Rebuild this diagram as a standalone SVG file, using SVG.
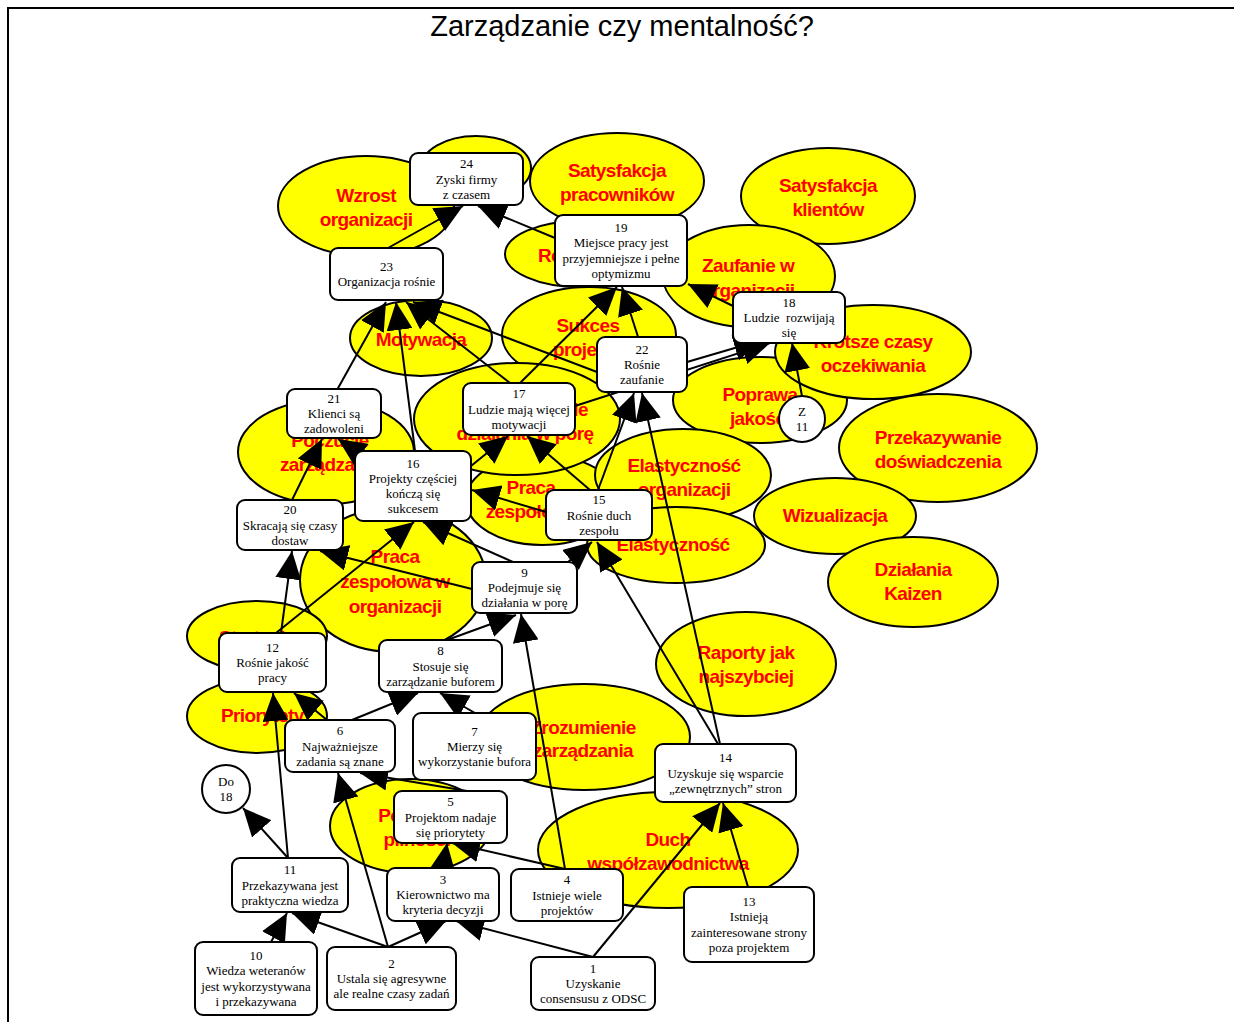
<svg xmlns="http://www.w3.org/2000/svg" width="1234" height="1022" viewBox="0 0 1234 1022">
<defs>
<style>
.e{fill:#ffff00;stroke:#000;stroke-width:2}
.et{font-family:"Liberation Sans",Arial,sans-serif;font-weight:bold;font-size:19px;fill:#ff0000;text-anchor:middle;letter-spacing:-0.6px}
.b{fill:#fff;stroke:#000;stroke-width:2}
.bt{font-family:"Liberation Serif","Times New Roman",serif;font-size:13px;fill:#000;text-anchor:middle}
.c line{stroke:#000;stroke-width:2;marker-end:url(#a)}
.title{font-family:"Liberation Sans",Arial,sans-serif;font-size:29px;fill:#000;text-anchor:middle}
</style>
<marker id="a" markerUnits="userSpaceOnUse" markerWidth="30" markerHeight="26" refX="28" refY="13" orient="auto"><path d="M0,0 L28,13 L0,26 z" fill="#000"/></marker>
</defs>
<rect width="1234" height="1022" fill="#fff"/>
<path d="M8,1022 V8 H1234" fill="none" stroke="#000" stroke-width="2"/>
<text class="title" x="622" y="36">Zarządzanie czy mentalność?</text>

<g id="ellipses">
<g id="e-top"><ellipse class="e" cx="476" cy="168" rx="55" ry="32"/></g>
<g id="e-wzrost"><ellipse class="e" cx="366" cy="206" rx="88" ry="50"/><text class="et" x="366" y="202">Wzrost</text><text class="et" x="366" y="226">organizacji</text></g>
<g id="e-satp"><ellipse class="e" cx="617" cy="181" rx="87" ry="48"/><text class="et" x="617" y="177">Satysfakcja</text><text class="et" x="617" y="201">pracowników</text></g>
<g id="e-satk"><ellipse class="e" cx="828" cy="196" rx="87" ry="48"/><text class="et" x="828" y="192">Satysfakcja</text><text class="et" x="828" y="216">klientów</text></g>
<g id="e-ro"><ellipse class="e" cx="580" cy="254" rx="75" ry="33"/><text class="et" x="538" y="262" style="text-anchor:start">Ro</text></g>
<g id="e-zauf"><ellipse class="e" cx="749" cy="276" rx="86" ry="51"/><text class="et" x="748" y="272">Zaufanie w</text><text class="et" x="748" y="297">organizacji</text></g>
<g id="e-sukces"><ellipse class="e" cx="589" cy="335" rx="87" ry="48"/><text class="et" x="588" y="332">Sukces</text><text class="et" x="588" y="356">projektu</text></g>
<g id="e-motyw"><ellipse class="e" cx="421" cy="338" rx="71" ry="38"/><text class="et" x="421" y="346">Motywacja</text></g>
<g id="e-poprawa"><ellipse class="e" cx="760" cy="400" rx="87" ry="43"/><text class="et" x="760" y="401">Poprawa</text><text class="et" x="760" y="425">jakości</text></g>
<g id="e-krotsze"><ellipse class="e" cx="873" cy="352" rx="98" ry="47"/><text class="et" x="873" y="348">Krótsze czasy</text><text class="et" x="873" y="372">oczekiwania</text></g>
<g id="e-przek"><ellipse class="e" cx="938" cy="448" rx="99" ry="54"/><text class="et" x="938" y="444">Przekazywanie</text><text class="et" x="938" y="468">doświadczenia</text></g>
<g id="e-poczz"><ellipse class="e" cx="326" cy="452" rx="88" ry="52"/><text class="et" x="330" y="447">Poczucie</text><text class="et" x="330" y="471">zarządzania</text></g>
<g id="e-praca"><ellipse class="e" cx="542" cy="500" rx="76" ry="45"/><text class="et" x="531" y="494">Praca</text><text class="et" x="531" y="518">zespołowa</text></g>
<g id="e-podej"><ellipse class="e" cx="517" cy="419" rx="103" ry="56"/><text class="et" x="525" y="416">Podejmowanie</text><text class="et" x="525" y="440">działania w porę</text></g>
<g id="e-elorg"><ellipse class="e" cx="683" cy="475" rx="88" ry="46"/><text class="et" x="684" y="472">Elastyczność</text><text class="et" x="684" y="496">organizacji</text></g>
<g id="e-elast"><ellipse class="e" cx="676" cy="545" rx="89" ry="38"/><text class="et" x="673" y="551">Elastyczność</text></g>
<g id="e-wiz"><ellipse class="e" cx="835" cy="516" rx="81" ry="38"/><text class="et" x="835" y="522">Wizualizacja</text></g>
<g id="e-kaizen"><ellipse class="e" cx="913" cy="582" rx="85" ry="45"/><text class="et" x="913" y="576">Działania</text><text class="et" x="913" y="600">Kaizen</text></g>
<g id="e-pracaorg"><ellipse class="e" cx="393" cy="580" rx="93" ry="72"/><text class="et" x="395" y="563">Praca</text><text class="et" x="395" y="588">zespołowa w</text><text class="et" x="395" y="613">organizacji</text></g>
<g id="e-strat"><ellipse class="e" cx="257" cy="636" rx="70" ry="35"/><text class="et" x="257" y="644">Strategia</text></g>
<g id="e-prior"><ellipse class="e" cx="257" cy="716" rx="70" ry="37"/><text class="et" x="221" y="722" style="text-anchor:start">Priorytety</text></g>
<g id="e-zroz"><ellipse class="e" cx="584" cy="737" rx="106" ry="53"/><text class="et" x="583" y="734">Zrozumienie</text><text class="et" x="583" y="757">zarządzania</text></g>
<g id="e-rap"><ellipse class="e" cx="746" cy="664" rx="90" ry="52"/><text class="et" x="746" y="659">Raporty jak</text><text class="et" x="746" y="683">najszybciej</text></g>
<g id="e-pil"><ellipse class="e" cx="410" cy="826" rx="80" ry="47"/><text class="et" x="417" y="822">Poczucie</text><text class="et" x="417" y="846">pilności</text></g>
<g id="e-duch"><ellipse class="e" cx="668" cy="850" rx="130" ry="58"/><text class="et" x="668" y="846">Duch</text><text class="et" x="668" y="870">współzawodnictwa</text></g>
</g>

<g id="connectors" class="c">
<line x1="388" y1="248" x2="463" y2="206"/>
<line x1="555" y1="238" x2="478" y2="206"/>
<line x1="337" y1="390" x2="386" y2="302"/>
<line x1="415" y1="451" x2="396" y2="302"/>
<line x1="510" y1="383" x2="406" y2="302"/>
<line x1="597" y1="372" x2="413" y2="302"/>
<line x1="640" y1="343" x2="622" y2="287"/>
<line x1="520" y1="383" x2="617" y2="287"/>
<line x1="733" y1="306" x2="688" y2="284"/>
<line x1="687" y1="362" x2="762" y2="340"/>
<line x1="575" y1="406" x2="770" y2="343"/>
<line x1="598" y1="490" x2="634" y2="393"/>
<line x1="720" y1="744" x2="642" y2="393"/>
<line x1="590" y1="490" x2="527" y2="436"/>
<line x1="471" y1="466" x2="508" y2="436"/>
<line x1="546" y1="512" x2="472" y2="490"/>
<line x1="718" y1="744" x2="597" y2="542"/>
<line x1="568" y1="562" x2="592" y2="542"/>
<line x1="513" y1="562" x2="423" y2="522"/>
<line x1="276" y1="633" x2="414" y2="522"/>
<line x1="281" y1="633" x2="292" y2="551"/>
<line x1="472" y1="589" x2="320" y2="551"/>
<line x1="292" y1="500" x2="322" y2="439"/>
<line x1="362" y1="455" x2="338" y2="439"/>
<line x1="288" y1="858" x2="273" y2="693"/>
<line x1="327" y1="720" x2="294" y2="693"/>
<line x1="352" y1="720" x2="418" y2="693"/>
<line x1="475" y1="713" x2="440" y2="693"/>
<line x1="447" y1="640" x2="516" y2="615"/>
<line x1="565" y1="869" x2="521" y2="614"/>
<line x1="565" y1="869" x2="452" y2="843"/>
<line x1="443" y1="868" x2="447" y2="843"/>
<line x1="467" y1="791" x2="360" y2="773"/>
<line x1="388" y1="947" x2="338" y2="773"/>
<line x1="388" y1="947" x2="292" y2="913"/>
<line x1="271" y1="942" x2="287" y2="913"/>
<line x1="388" y1="947" x2="446" y2="921"/>
<line x1="593" y1="957" x2="456" y2="921"/>
<line x1="593" y1="957" x2="720" y2="803"/>
<line x1="748" y1="887" x2="723" y2="803"/>
<line x1="288" y1="858" x2="243" y2="808"/>
<line x1="802" y1="396" x2="792" y2="343"/>
</g>

<g id="n24"><rect class="b" x="410" y="153" width="113" height="52" rx="8"/><text class="bt" x="466.5" y="168.2">24</text><text class="bt" x="466.5" y="183.5">Zyski firmy</text><text class="bt" x="466.5" y="198.8">z czasem</text></g>
<g id="n23"><rect class="b" x="330" y="248" width="113" height="52" rx="8"/><text class="bt" x="386.5" y="270.9">23</text><text class="bt" x="386.5" y="286.2">Organizacja rośnie</text></g>
<g id="n19"><rect class="b" x="555" y="215" width="132" height="71" rx="8"/><text class="bt" x="621" y="232">19</text><text class="bt" x="621" y="247.3">Miejsce pracy jest</text><text class="bt" x="621" y="262.6">przyjemniejsze i pełne</text><text class="bt" x="621" y="277.9">optymizmu</text></g>
<g id="n18"><rect class="b" x="733" y="292" width="112" height="51" rx="8"/><text class="bt" x="789" y="306.7">18</text><text class="bt" x="789" y="322" xml:space="preserve">Ludzie  rozwijają</text><text class="bt" x="789" y="337.3">się</text></g>
<g id="n22"><rect class="b" x="597" y="337" width="90" height="55" rx="8"/><text class="bt" x="642" y="353.7">22</text><text class="bt" x="642" y="369">Rośnie</text><text class="bt" x="642" y="384.3">zaufanie</text></g>
<g id="n17"><rect class="b" x="463" y="383" width="112" height="52" rx="8"/><text class="bt" x="519" y="398.2">17</text><text class="bt" x="519" y="413.5">Ludzie mają więcej</text><text class="bt" x="519" y="428.8">motywacji</text></g>
<g id="n21"><rect class="b" x="287" y="389" width="94" height="49" rx="8"/><text class="bt" x="334" y="402.7">21</text><text class="bt" x="334" y="418">Klienci są</text><text class="bt" x="334" y="433.3">zadowoleni</text></g>
<g id="n16"><rect class="b" x="355" y="451" width="116" height="70" rx="8"/><text class="bt" x="413" y="467.5">16</text><text class="bt" x="413" y="482.8">Projekty częściej</text><text class="bt" x="413" y="498.1">kończą się</text><text class="bt" x="413" y="513.4">sukcesem</text></g>
<g id="n20"><rect class="b" x="237" y="500" width="106" height="50" rx="8"/><text class="bt" x="290" y="514.2">20</text><text class="bt" x="290" y="529.5">Skracają się czasy</text><text class="bt" x="290" y="544.8">dostaw</text></g>
<g id="n15"><rect class="b" x="546" y="490" width="106" height="50" rx="8"/><text class="bt" x="599" y="504.2">15</text><text class="bt" x="599" y="519.5">Rośnie duch</text><text class="bt" x="599" y="534.8">zespołu</text></g>
<g id="n9"><rect class="b" x="472" y="562" width="105" height="51" rx="8"/><text class="bt" x="524.5" y="576.7">9</text><text class="bt" x="524.5" y="592">Podejmuje się</text><text class="bt" x="524.5" y="607.3">działania w porę</text></g>
<g id="n12"><rect class="b" x="219" y="633" width="107" height="59" rx="8"/><text class="bt" x="272.5" y="651.7">12</text><text class="bt" x="272.5" y="667">Rośnie jakość</text><text class="bt" x="272.5" y="682.3">pracy</text></g>
<g id="n8"><rect class="b" x="379" y="640" width="123" height="52" rx="8"/><text class="bt" x="440.5" y="655.2">8</text><text class="bt" x="440.5" y="670.5">Stosuje się</text><text class="bt" x="440.5" y="685.8">zarządzanie buforem</text></g>
<g id="n6"><rect class="b" x="285" y="720" width="110" height="52" rx="8"/><text class="bt" x="340" y="735.2">6</text><text class="bt" x="340" y="750.5">Najważniejsze</text><text class="bt" x="340" y="765.8">zadania są znane</text></g>
<g id="n7"><rect class="b" x="413" y="713" width="123" height="67" rx="8"/><text class="bt" x="474.5" y="735.7">7</text><text class="bt" x="474.5" y="751">Mierzy się</text><text class="bt" x="474.5" y="766.3">wykorzystanie bufora</text></g>
<g id="n5"><rect class="b" x="394" y="791" width="113" height="52" rx="8"/><text class="bt" x="450.5" y="806.2">5</text><text class="bt" x="450.5" y="821.5">Projektom nadaje</text><text class="bt" x="450.5" y="836.8">się priorytety</text></g>
<g id="nDo18"><circle class="b" cx="226" cy="789" r="24"/><text class="bt" x="226" y="785.9">Do</text><text class="bt" x="226" y="801.2">18</text></g>
<g id="nZ11"><circle class="b" cx="802" cy="419" r="23"/><text class="bt" x="802" y="415.9">Z</text><text class="bt" x="802" y="431.2">11</text></g>
<g id="n11"><rect class="b" x="232" y="858" width="116" height="54" rx="8"/><text class="bt" x="290" y="874.2">11</text><text class="bt" x="290" y="889.5">Przekazywana jest</text><text class="bt" x="290" y="904.8">praktyczna wiedza</text></g>
<g id="n3"><rect class="b" x="387" y="868" width="112" height="53" rx="8"/><text class="bt" x="443" y="883.7">3</text><text class="bt" x="443" y="899">Kierownictwo ma</text><text class="bt" x="443" y="914.3">kryteria decyzji</text></g>
<g id="n4"><rect class="b" x="511" y="869" width="112" height="52" rx="8"/><text class="bt" x="567" y="884.2">4</text><text class="bt" x="567" y="899.5">Istnieje wiele</text><text class="bt" x="567" y="914.8">projektów</text></g>
<g id="n10"><rect class="b" x="195" y="942" width="122" height="73" rx="8"/><text class="bt" x="256" y="960">10</text><text class="bt" x="256" y="975.3">Wiedza weteranów</text><text class="bt" x="256" y="990.6">jest wykorzystywana</text><text class="bt" x="256" y="1005.9">i przekazywana</text></g>
<g id="n2"><rect class="b" x="327" y="947" width="129" height="63" rx="8"/><text class="bt" x="391.5" y="967.7">2</text><text class="bt" x="391.5" y="983">Ustala się agresywne</text><text class="bt" x="391.5" y="998.3">ale realne czasy zadań</text></g>
<g id="n1"><rect class="b" x="531" y="957" width="124" height="53" rx="8"/><text class="bt" x="593" y="972.7">1</text><text class="bt" x="593" y="988">Uzyskanie</text><text class="bt" x="593" y="1003.3">consensusu z ODSC</text></g>
<g id="n13"><rect class="b" x="684" y="887" width="130" height="75" rx="8"/><text class="bt" x="749" y="906">13</text><text class="bt" x="749" y="921.3">Istnieją</text><text class="bt" x="749" y="936.6">zainteresowane strony</text><text class="bt" x="749" y="951.9">poza projektem</text></g>
<g id="n14"><rect class="b" x="655" y="744" width="141" height="58" rx="8"/><text class="bt" x="725.5" y="762.2">14</text><text class="bt" x="725.5" y="777.5">Uzyskuje się wsparcie</text><text class="bt" x="725.5" y="792.8">„zewnętrznych” stron</text></g>
</svg>
